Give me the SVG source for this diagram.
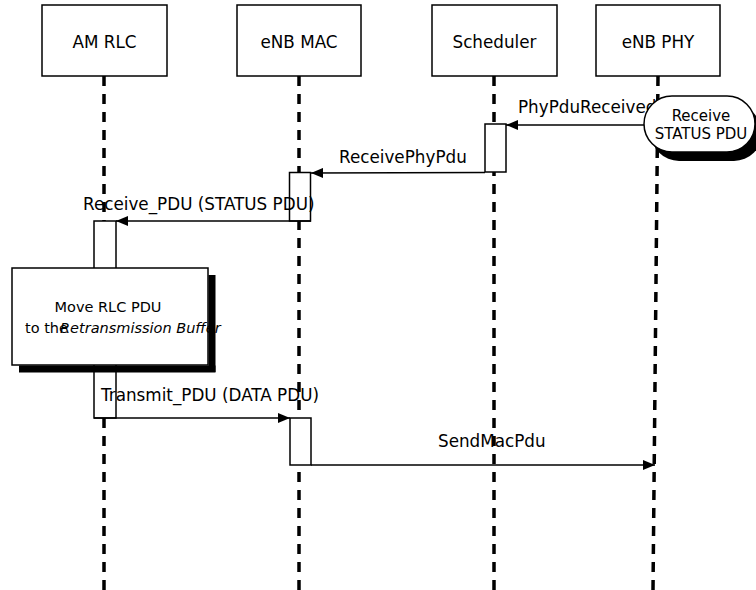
<svg xmlns="http://www.w3.org/2000/svg" width="756" height="590" viewBox="0 0 756 590">
<defs>
<style>
.box{fill:#fff;stroke:#000;stroke-width:1.5}
.life{stroke:#000;stroke-width:3.5;stroke-dasharray:10 8;fill:none}
.act{fill:#fff;stroke:#000;stroke-width:1.5}
.msg{stroke:#000;stroke-width:1.6;fill:none;marker-end:url(#ah)}
.t{font-family:"DejaVu Sans","Liberation Sans",sans-serif;font-size:16.8px;fill:#000}
.n{font-family:"DejaVu Sans","Liberation Sans",sans-serif;font-size:14.5px;fill:#000}
</style>
<marker id="ah" markerWidth="12" markerHeight="10" refX="12" refY="5" orient="auto" markerUnits="userSpaceOnUse">
<path d="M0,0 L12,5 L0,10 Z" fill="#000"/>
</marker>
</defs>
<rect width="756" height="590" fill="#fff"/>
<g id="lifelines">
<line class="life" x1="104" y1="76" x2="104" y2="590"/>
<line class="life" x1="299" y1="76" x2="299" y2="590"/>
<line class="life" x1="494" y1="76" x2="494" y2="590"/>
<line class="life" x1="658" y1="76" x2="653" y2="590"/>
</g>
<g id="am-rlc"><rect class="box" x="42" y="5" width="125" height="71"/><text class="t" x="104.5" y="48" text-anchor="middle">AM RLC</text></g>
<g id="enb-mac"><rect class="box" x="237" y="5" width="124" height="71"/><text class="t" x="299" y="48" text-anchor="middle">eNB MAC</text></g>
<g id="scheduler"><rect class="box" x="432" y="5" width="125" height="71"/><text class="t" x="494.5" y="48" text-anchor="middle">Scheduler</text></g>
<g id="enb-phy"><rect class="box" x="596" y="5" width="124" height="71"/><text class="t" x="658" y="48" text-anchor="middle">eNB PHY</text></g>
<g id="activations">
<rect class="act" x="485" y="124" width="21" height="48"/>
<rect class="act" x="289.5" y="172.5" width="21" height="48.5"/>
<rect class="act" x="94" y="221" width="22" height="197"/>
<rect class="act" x="290" y="418" width="21" height="47"/>
</g>
<g id="connectors">
<line class="msg" x1="645" y1="125" x2="506" y2="125"/>
<text class="t" x="518" y="113">PhyPduReceived</text>
<line class="msg" x1="485" y1="172.5" x2="311" y2="173"/>
<text class="t" x="339" y="163">ReceivePhyPdu</text>
<line class="msg" x1="311" y1="221" x2="116" y2="221"/>
<text class="t" x="83" y="210">Receive_PDU (STATUS PDU)</text>
<line class="msg" x1="94" y1="418" x2="290" y2="418"/>
<text class="t" x="101" y="401">Transmit_PDU (DATA PDU)</text>
<line class="msg" x1="311" y1="465" x2="655" y2="465"/>
<text class="t" x="438" y="447">SendMacPdu</text>
</g>
<g id="receive-status-pdu">
<rect x="651" y="105" width="111" height="56" rx="28" fill="#000"/>
<rect x="644" y="96" width="111" height="56" rx="28" fill="#fff" stroke="#000" stroke-width="1.5"/>
<text class="n" x="701" y="121" text-anchor="middle" style="font-size:15px">Receive</text>
<text class="n" x="701" y="139" text-anchor="middle" style="font-size:15px">STATUS PDU</text>
</g>
<g id="note-move-rlc-pdu">
<rect class="box" x="12" y="268" width="196" height="97"/>
<text class="n" x="108" y="312" text-anchor="middle">Move RLC PDU</text>
<text class="n" x="25" y="333">to the</text>
<text class="n" x="60" y="333" style="font-style:italic">Retransmission Buffer</text>
<rect x="208.5" y="275" width="7" height="97" fill="#000"/>
<rect x="19" y="365.5" width="196.5" height="7" fill="#000"/>
</g>
</svg>
